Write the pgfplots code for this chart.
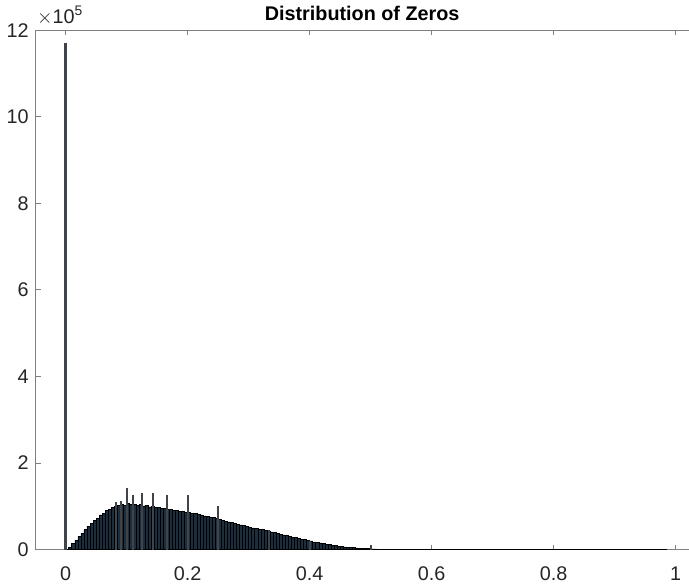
\documentclass[border=0pt]{standalone}
\usepackage{pgfplots}
\pgfplotsset{compat=1.18}
\usepackage{fontspec}
\setmainfont{Liberation Sans}
\definecolor{barfill}{RGB}{28,46,62}
\definecolor{spike}{RGB}{62,68,74}
\definecolor{axgray}{RGB}{128,128,128}
\definecolor{lbl}{RGB}{38,38,38}
\begin{document}
\begin{tikzpicture}
\begin{axis}[
  scale only axis,
  width=325.5bp, height=259bp,
  xmin=-0.049, xmax=1.021,
  ymin=0, ymax=12,
  xtick={0,0.2,0.4,0.6,0.8,1},
  xticklabels={0,0.2,0.4,0.6,0.8,1},
  ytick={0,2,4,6,8,10,12},
  axis x line*=box, axis y line*=left,
  tick align=inside,
  major tick length=2.5bp,
  axis line style={axgray, line width=0.5bp},
  tick style={axgray, line width=0.5bp},
  /pgf/number format/assume math mode=true,
  tick label style={font=\fontsize{9.9}{11}\selectfont, text=lbl},
  title={\textbf{Distribution of Zeros}},
  title style={font=\fontsize{9.9}{11}\selectfont, yshift=-5bp},
  xticklabel style={yshift=-5bp},
  clip mode=individual,
]
\addplot[ybar interval, fill=barfill, draw=black, line width=0.25bp] coordinates {
(0.000,0.00) (0.005,0.06) (0.010,0.14) (0.015,0.22) (0.020,0.30) (0.025,0.38)
(0.030,0.46) (0.035,0.54) (0.040,0.60) (0.045,0.68) (0.050,0.72) (0.055,0.80)
(0.060,0.84) (0.065,0.90) (0.070,0.93) (0.075,0.97) (0.080,1.00) (0.085,1.02)
(0.090,1.05) (0.095,1.03) (0.100,1.06) (0.105,1.04) (0.110,1.05) (0.115,1.02)
(0.120,1.04) (0.125,1.01) (0.130,1.02) (0.135,0.99) (0.140,1.00) (0.145,0.97)
(0.150,0.97) (0.155,0.95) (0.160,0.96) (0.165,0.93) (0.170,0.93) (0.175,0.91)
(0.180,0.91) (0.185,0.89) (0.190,0.88) (0.195,0.86) (0.200,0.86) (0.205,0.83)
(0.210,0.83) (0.215,0.81) (0.220,0.80) (0.225,0.78) (0.230,0.77) (0.235,0.75)
(0.240,0.74) (0.245,0.72) (0.250,0.70) (0.255,0.68) (0.260,0.66) (0.265,0.64)
(0.270,0.63) (0.275,0.61) (0.280,0.59) (0.285,0.57) (0.290,0.56) (0.295,0.54)
(0.300,0.52) (0.305,0.50) (0.310,0.49) (0.315,0.47) (0.320,0.46) (0.325,0.44)
(0.330,0.43) (0.335,0.41) (0.340,0.40) (0.345,0.38) (0.350,0.36) (0.355,0.34)
(0.360,0.33) (0.365,0.31) (0.370,0.29) (0.375,0.28) (0.380,0.26) (0.385,0.24)
(0.390,0.23) (0.395,0.21) (0.400,0.20) (0.405,0.18) (0.410,0.17) (0.415,0.155)
(0.420,0.14) (0.425,0.125) (0.430,0.115) (0.435,0.10) (0.440,0.09) (0.445,0.08)
(0.450,0.072) (0.455,0.065) (0.460,0.058) (0.465,0.052) (0.470,0.045) (0.475,0.039)
(0.480,0.033) (0.485,0.028) (0.490,0.024) (0.495,0.020) (0.500,0.017) (0.505,0.015)
(0.510,0.013) (0.515,0.011) (0.520,0.010) (0.525,0.009) (0.530,0.008) (0.535,0.007)
(0.540,0.006) (0.545,0.005) (0.550,0.004) (0.560,0.003) (0.580,0.002) (0.600,0.0015)
(0.650,0.001) (0.700,0.0008) (0.800,0.0006) (0.900,0.0005) (0.985,0.0005)
};
\addplot[ycomb, spike, line width=1bp, mark=none] coordinates {
(0.0833,1.10) (0.0909,1.13) (0.1,1.42) (0.1111,1.26) (0.125,1.30)
(0.1429,1.31) (0.1667,1.27) (0.2,1.27) (0.25,1.01) (0.3333,0.46) (0.4,0.21) (0.5,0.10)
};
\addplot[ycomb, spike, line width=1.4bp, mark=none] coordinates {(0,11.71)};
\node[anchor=south west, inner sep=0pt, font=\fontsize{9.9}{11}\selectfont, text=lbl]
  at ([xshift=0.5bp,yshift=2.5bp]rel axis cs:0,1) {$\times$10\textsuperscript{5}};
\end{axis}
\end{tikzpicture}
\end{document}
